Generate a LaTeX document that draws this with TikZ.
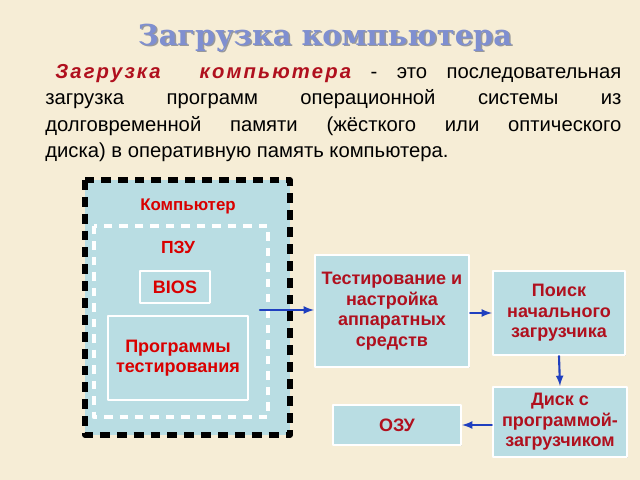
\documentclass[tikz,border=0pt]{standalone}
\usepackage{fontspec}
\setmainfont{Liberation Sans}
\newfontfamily\titlefont{DejaVu Serif}
\definecolor{bgcream}{HTML}{F6EDD6}
\definecolor{boxblue}{HTML}{B9DDE3}
\definecolor{txtred}{HTML}{B0101E}
\definecolor{titleblue}{HTML}{7F8FD0}
\definecolor{arrblue}{HTML}{1F3FBF}
\tikzset{
  block/.style={fill=boxblue,draw=white,line width=1.5pt,drop shadow={opacity=0.35,shadow xshift=1pt,shadow yshift=-1pt},
    align=center,font=\bfseries\fontsize{12.8}{14.6}\selectfont,text=txtred,inner sep=1pt},
  flow/.style={->,>=latex,draw=arrblue,line width=1.5pt}
}
\usetikzlibrary{shadows}
\begin{document}
\begin{tikzpicture}[line cap=round,line join=round,x=0.025cm,y=-0.025cm]
	\fill[bgcream] (0,0) rectangle (640,480);
	\useasboundingbox (0,0) rectangle (640,480);
	% title
	\node[text=black!40,font=\titlefont\bfseries\fontsize{20.5}{24}\selectfont] at (326.5,39.5) {Загрузка компьютера};
	\node[text=titleblue,font=\titlefont\bfseries\fontsize{20.5}{24}\selectfont] (title) at (325,38) {Загрузка компьютера};
	\node[anchor=north west,text width=14.4cm,align=justify,inner sep=0pt,font=\fontsize{14.4}{18.8}\selectfont] (para) at (45,64)
	{\hspace*{0.25cm}{\color{txtred}\bfseries\itshape З\kern1.5pt а\kern1.5pt г\kern1.5pt р\kern1.5pt у\kern1.5pt з\kern1.5pt к\kern1.5pt а\ \ к\kern1.5pt о\kern1.5pt м\kern1.5pt п\kern1.5pt ь\kern1.5pt ю\kern1.5pt т\kern1.5pt е\kern1.5pt р\kern1.5pt а} - это последовательная\linebreak загрузка программ операционной системы из\linebreak долговременной памяти (жёсткого или оптического\linebreak диска) в оперативную память компьютера.};
	% computer
	\fill[boxblue] (85,180) rectangle (290,435);
	\draw[line width=4pt,dash pattern=on 7pt off 5pt,line cap=butt] (85,180) rectangle (290,435);
	\draw[white,line width=3pt,dash pattern=on 6pt off 5pt,line cap=butt] (94,226) rectangle (268,417);
	\node[text=red!85!black,font=\bfseries\fontsize{12}{14}\selectfont] (comp) at (188,206) {Компьютер};
	\node[text=red!85!black,font=\bfseries\fontsize{12.5}{14}\selectfont] (rom) at (178,247) {ПЗУ};
	\node[block,text=red!85!black,minimum width=1.75cm,minimum height=0.8cm] (bios) at (175,287) {BIOS};
	\node[block,text=red!85!black,minimum width=3.5cm,minimum height=2.1cm] (tests) at (178,358) {Программы\\тестирования};
	% flow
	\node[block,minimum width=3.85cm,minimum height=2.8cm] (hw) at (392,311) {Тестирование и\\настройка\\аппаратных\\средств};
	\node[block,minimum width=3.3cm,minimum height=2.1cm] (boot) at (559,313) {Поиск\\начального\\загрузчика};
	\node[block,minimum width=3.35cm,minimum height=1.75cm] (disk) at (560,422) {Диск с\\программой-\\загрузчиком};
	\node[block,minimum width=3.2cm,minimum height=1cm] (ram) at (397,425) {ОЗУ};
	\coordinate (romout) at (260,310);
	\draw[flow] (romout) -- (hw.west |- romout);
	\draw[flow] (hw.east |- boot) -- (boot.west);
	\draw[flow] (boot.south) -- (disk.north);
	\draw[flow] (disk.west |- ram) -- (ram.east);
\end{tikzpicture}
\end{document}
